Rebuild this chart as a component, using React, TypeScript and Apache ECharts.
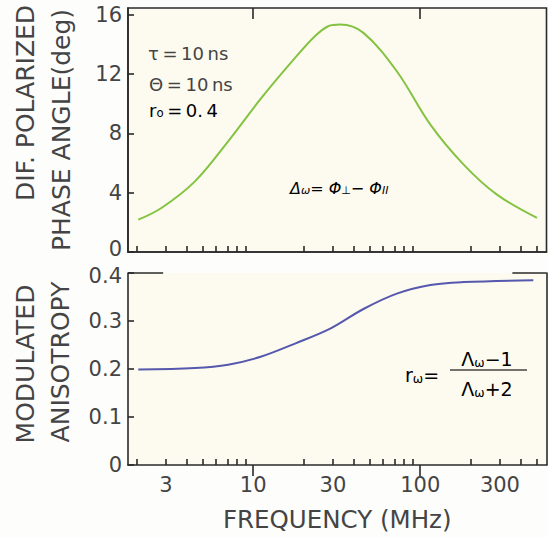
import React, { useEffect, useRef } from "react";
import * as echarts from "echarts";

// ---- data ----
const phaseFreq = [2.05, 2.82, 4.48, 7.08, 11.2, 17.8, 23.4, 28.1, 33.2, 45.7, 72.4, 115, 182, 288, 500];
const phaseDeg = [2.18, 2.97, 4.77, 7.47, 10.4, 13.1, 14.56, 15.24, 15.35, 14.79, 12.2, 8.6, 5.9, 3.87, 2.3];

const anisoFreq = [2.05, 4.48, 7.08, 11.2, 17.8, 28.9, 45.7, 72.4, 115, 182, 475];
const anisotropy = [0.199, 0.202, 0.209, 0.226, 0.253, 0.284, 0.325, 0.357, 0.375, 0.381, 0.385];

const minorTicks = [2, 3, 4, 5, 6, 7, 8, 9, 20, 30, 40, 50, 60, 70, 80, 90, 200, 300, 400, 500];
const majorTicks = [10, 100];
const freqLabels = [3, 10, 30, 100, 300];
const phaseTicks = [0, 4, 8, 12, 16];
const anisoTicks = [0, 0.1, 0.2, 0.3, 0.4];

const X_MIN = 1.78;
const X_MAX = 570;
const INK = "#2a2a2a";
const TXT = "#444444";
const FONT = "DejaVu Sans";
const TICK_FS = 21;

export default function App() {
  const ref = useRef<HTMLDivElement>(null);
  useEffect(() => {
    if (!ref.current) return;
    const chart = echarts.init(ref.current, null, { renderer: "svg" });

    const xBase = (gridIndex: number, ticks: number[], len: number, showLine: boolean, labels: boolean) => ({
      type: "log",
      logBase: 10,
      gridIndex,
      min: X_MIN,
      max: X_MAX,
      axisLine: { show: showLine, lineStyle: { color: INK, width: 1.6 } },
      axisTick: { show: true, inside: true, length: len, customValues: ticks, lineStyle: { color: INK, width: 1.6 } },
      axisLabel: labels
        ? { show: true, customValues: freqLabels, color: TXT, fontFamily: FONT, fontSize: 21, margin: 9 }
        : { show: false },
      splitLine: { show: false },
      minorTick: { show: false },
      minorSplitLine: { show: false },
    });

    const subRich = (size: number) => ({
      n: { fontSize: size, fontFamily: FONT, color: TXT, lineHeight: size + 4, verticalAlign: "bottom" },
      s: { fontSize: size * 0.65, fontFamily: FONT, color: TXT, lineHeight: size * 0.65, verticalAlign: "bottom" },
    });

    const title = (x: number, y: number, text: string) => ({
      type: "text",
      x,
      y,
      rotation: Math.PI / 2,
      style: { text, font: `25px "${FONT}"`, fill: TXT, align: "center", verticalAlign: "middle" },
    });

    const tickRich = {
      t: { fontSize: TICK_FS, fontFamily: FONT, color: TXT },
      up: { fontSize: TICK_FS, fontFamily: FONT, color: TXT, padding: [0, 0, 7, 0] },
      dn: { fontSize: TICK_FS, fontFamily: FONT, color: TXT, padding: [5, 0, 0, 0] },
    };

    const option: any = {
      animation: false,
      backgroundColor: "#fdfdfc",
      grid: [
        { left: 128, right: 1.5, top: 8, height: 244, show: true, backgroundColor: "#fdfbf0", borderColor: INK, borderWidth: 1.6 },
        { left: 128, right: 1.5, top: 273, height: 192, show: true, backgroundColor: "#fdfbf0", borderWidth: 0 },
      ],
      xAxis: [
        xBase(0, minorTicks, 6, true, false),
        xBase(0, majorTicks, 11, false, false),
        {
          ...xBase(1, minorTicks, 6, true, true),
          name: "FREQUENCY (MHz)",
          nameLocation: "middle",
          nameGap: 42,
          nameTextStyle: { color: TXT, fontFamily: FONT, fontSize: 24.5 },
        },
        xBase(1, majorTicks, 11, false, false),
      ],
      yAxis: [
        {
          type: "value",
          gridIndex: 0,
          min: 0,
          max: 16.47,
          axisLine: { show: true, lineStyle: { color: INK, width: 1.6 } },
          axisTick: { show: true, inside: true, length: 6, customValues: phaseTicks, lineStyle: { color: INK, width: 1.6 } },
          axisLabel: {
            show: true,
            customValues: phaseTicks,
            formatter: (v: number) => (v === 0 ? "{up|0}" : `{t|${v}}`),
            rich: tickRich,
            margin: 6,
          },
          splitLine: { show: false },
        },
        {
          type: "value",
          gridIndex: 1,
          min: 0,
          max: 0.4,
          axisLine: { show: true, lineStyle: { color: INK, width: 1.6 } },
          axisTick: { show: true, inside: true, length: 6, customValues: anisoTicks, lineStyle: { color: INK, width: 1.6 } },
          axisLabel: {
            show: true,
            customValues: anisoTicks,
            formatter: (v: number) => (v === 0 ? "{t|0}" : v >= 0.4 ? `{dn|${v.toFixed(1)}}` : `{t|${v.toFixed(1)}}`),
            rich: tickRich,
            margin: 6,
          },
          splitLine: { show: false },
        },
        {
          type: "value",
          gridIndex: 1,
          position: "right",
          min: 0,
          max: 0.4,
          axisLine: { show: true, lineStyle: { color: INK, width: 1.6 } },
          axisTick: { show: false },
          axisLabel: { show: false },
          splitLine: { show: false },
        },
      ],
      series: [
        {
          type: "line",
          xAxisIndex: 0,
          yAxisIndex: 0,
          data: phaseFreq.map((f, i) => [f, phaseDeg[i]]),
          smooth: 0.35,
          showSymbol: false,
          lineStyle: { color: "#84c341", width: 2 },
        },
        {
          type: "line",
          xAxisIndex: 2,
          yAxisIndex: 1,
          data: anisoFreq.map((f, i) => [f, anisotropy[i]]),
          smooth: 0.35,
          showSymbol: false,
          lineStyle: { color: "#5558ad", width: 2 },
          markLine: {
            silent: true,
            symbol: "none",
            label: { show: false },
            lineStyle: { color: INK, width: 1.6, type: "solid" },
            data: [
              [{ coord: [X_MIN, 0.4] }, { coord: [2.89, 0.4] }],
              [{ coord: [356, 0.4] }, { coord: [X_MAX, 0.4] }],
            ],
          },
        },
      ],
      graphic: [
        title(25, 103, "DIF. POLARIZED"),
        title(61, 130, "PHASE ANGLE(deg)"),
        title(25, 364, "MODULATED"),
        title(60, 362, "ANISOTROPY"),
        { type: "text", x: 148, y: 53, style: { text: "τ\u2009=\u200910\u2009ns", font: `18px "${FONT}"`, fill: TXT, align: "left", verticalAlign: "middle" } },
        { type: "text", x: 149, y: 84, style: { text: "Θ\u2009=\u200910\u2009ns", font: `18px "${FONT}"`, fill: TXT, align: "left", verticalAlign: "middle" } },
        {
          type: "text",
          x: 149,
          y: 108,
          style: {
            text: "{n|r}{s|o}{n|\u2009=\u20090.\u20094}",
            rich: subRich(18),
            align: "left",
            verticalAlign: "middle",
          },
        },
        {
          type: "text",
          x: 290,
          y: 186,
          style: {
            text: "{n|Δ}{s|ω}{n|= Φ}{s|⊥}{n|− Φ}{s|II}",
            rich: {
              n: { fontSize: 16, fontFamily: FONT, fontStyle: "italic", color: TXT, lineHeight: 20, verticalAlign: "bottom" },
              s: { fontSize: 11, fontFamily: FONT, fontStyle: "italic", color: TXT, lineHeight: 12, verticalAlign: "bottom" },
            },
            align: "left",
            verticalAlign: "middle",
          },
        },
        {
          type: "text",
          x: 405,
          y: 373,
          style: { text: "{n|r}{s|ω}{n|=}", rich: subRich(19), align: "left", verticalAlign: "middle" },
        },
        {
          type: "text",
          x: 487,
          y: 357,
          style: { text: "{n|Λ}{s|ω}{n|−1}", rich: subRich(19), align: "center", verticalAlign: "middle" },
        },
        { type: "line", shape: { x1: 450, y1: 370, x2: 527, y2: 370 }, style: { stroke: TXT, lineWidth: 1.5 } },
        {
          type: "text",
          x: 487,
          y: 387,
          style: { text: "{n|Λ}{s|ω}{n|+2}", rich: subRich(19), align: "center", verticalAlign: "middle" },
        },
      ],
    };
    chart.setOption(option);
    return () => chart.dispose();
  }, []);
  return <div ref={ref} style={{ position: "fixed", left: 0, top: 0, width: 548, height: 537 }} />;
}
